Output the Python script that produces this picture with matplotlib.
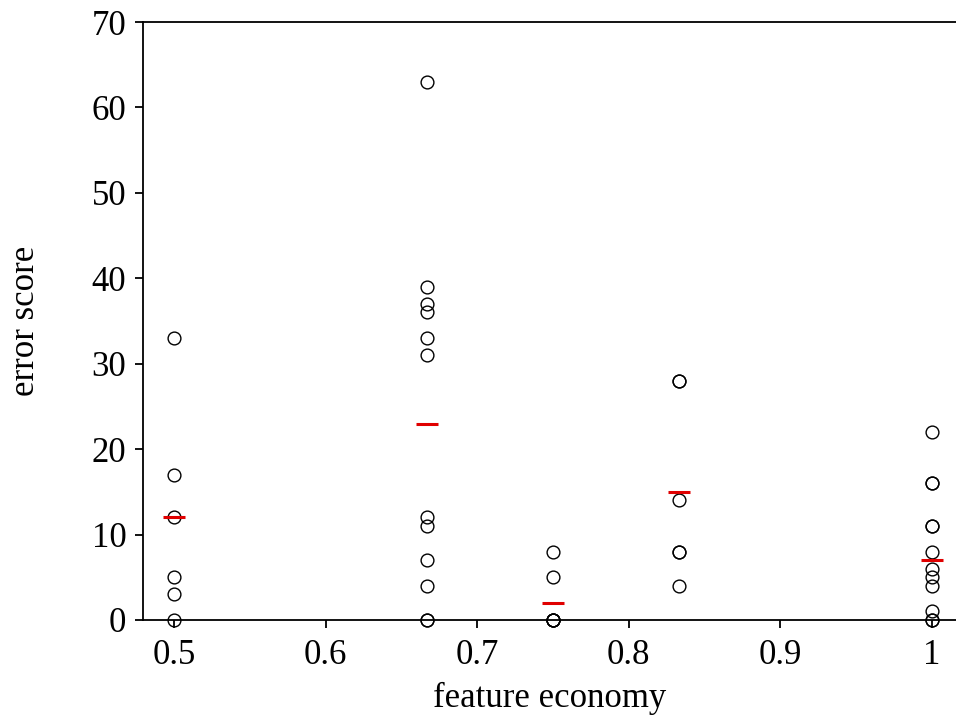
import numpy as np
import matplotlib.pyplot as plt

plt.rcParams['font.family'] = ['Liberation Serif', 'DejaVu Serif']

# feature economy groups and error scores
economy = [0.5, 2 / 3, 0.75, 5 / 6, 1.0]
scores = [
    [33, 17, 12, 5, 3, 0],
    [63, 39, 37, 36, 33, 31, 12, 11, 7, 4, 0, 0],
    [8, 5, 0, 0, 0, 0],
    [28, 28, 14, 8, 8, 4],
    [22, 16, 16, 11, 11, 8, 6, 5, 4, 1, 0, 0],
]
means = [12, 23, 2, 15, 7]

xticks = [0.5, 0.6, 0.7, 0.8, 0.9, 1.0]
xticklabels = ['0.5', '0.6', '0.7', '0.8', '0.9', '1']
yticks = [0, 10, 20, 30, 40, 50, 60, 70]

fig = plt.figure(figsize=(9.56, 7.17), dpi=100)
ax = fig.add_axes([0.1496, 0.1353, 0.8504, 0.834])

for x, ys in zip(economy, scores):
    ax.plot(np.full(len(ys), x), ys, linestyle='none', marker='o', ms=9.2,
            mfc='none', mec='black', mew=1.0, clip_on=False, zorder=3)

ax.plot(economy, means, linestyle='none', marker='_', ms=16, mew=2.2,
        color='#e00000', clip_on=False, zorder=4)

ax.set_xlim(0.4795, 1.0158)
ax.set_ylim(0, 70)
ax.set_xticks(xticks)
ax.set_xticklabels(xticklabels)
ax.set_yticks(yticks)

ax.spines['right'].set_visible(False)
for s in ['left', 'bottom', 'top']:
    ax.spines[s].set_linewidth(1.3)
ax.tick_params(axis='both', direction='out', length=6, width=1.3,
               labelsize=25, pad=6)
ax.tick_params(axis='x', pad=8)

ax.set_xlabel('feature economy', fontsize=25, labelpad=7)
ax.set_ylabel('error score', fontsize=25, labelpad=36)

fig.savefig('out.png', dpi=100)
